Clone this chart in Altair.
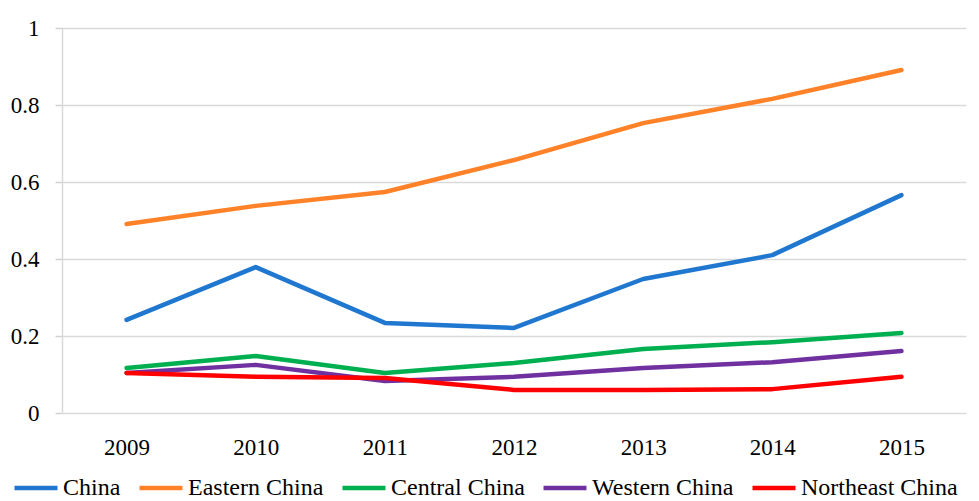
import altair as alt
import pandas as pd

years = ["2009", "2010", "2011", "2012", "2013", "2014", "2015"]
series_names = ["China", "Eastern China", "Central China", "Western China", "Northeast China"]
china = [0.242, 0.379, 0.234, 0.221, 0.348, 0.410, 0.566]
eastern = [0.491, 0.538, 0.574, 0.657, 0.753, 0.816, 0.891]
central = [0.117, 0.148, 0.104, 0.130, 0.166, 0.184, 0.208]
western = [0.104, 0.125, 0.083, 0.094, 0.117, 0.132, 0.161]
northeast = [0.104, 0.094, 0.091, 0.060, 0.060, 0.062, 0.094]
colors = ["#1F77D0", "#FF8229", "#00B050", "#7030A0", "#FF0000"]

rows = []
for name, vals in zip(series_names, [china, eastern, central, western, northeast]):
    for y, v in zip(years, vals):
        rows.append({"Year": y, "Value": v, "Series": name})
df = pd.DataFrame(rows)

FONT = "Liberation Serif"

chart = alt.Chart(df).mark_line(strokeWidth=4.5, strokeCap="round", strokeJoin="round").encode(
    x=alt.X("Year:O", sort=years,
            scale=alt.Scale(type="point", padding=0.5),
            axis=alt.Axis(title=None, labelAngle=0, domain=False, ticks=False,
                          grid=False, labelPadding=23, labelFontSize=23,
                          labelFont=FONT, labelColor="#000000")),
    y=alt.Y("Value:Q", scale=alt.Scale(domain=[0, 1], nice=False),
            axis=alt.Axis(title=None, values=[0, 0.2, 0.4, 0.6, 0.8, 1.0], format=".1~f",
                          domain=True, domainColor="#D9D9D9", domainWidth=1.5,
                          ticks=True, tickSize=7, tickColor="#D0D0D0", tickWidth=1.5,
                          grid=True, gridColor="#D9D9D9", gridWidth=1.5,
                          labelPadding=16, labelFontSize=23, labelFont=FONT,
                          labelColor="#000000")),
    color=alt.Color("Series:N", sort=series_names,
                    scale=alt.Scale(domain=series_names, range=colors),
                    legend=alt.Legend(title=None, orient="none", direction="horizontal",
                                      legendX=-50, legendY=436, padding=0,
                                      symbolType="stroke", symbolSize=1849, symbolStrokeWidth=4.5,
                                      labelFont=FONT, labelFontSize=24, labelColor="#000000",
                                      labelLimit=400, labelOffset=3, columnPadding=9)),
).properties(
    width=904, height=385,
    autosize=alt.AutoSizeParams(type="none"),
    padding={"left": 54, "top": 20, "right": 5, "bottom": 120},
).configure_view(stroke=None)

chart.save("out.html", embed_options={"renderer": "svg", "actions": False})
